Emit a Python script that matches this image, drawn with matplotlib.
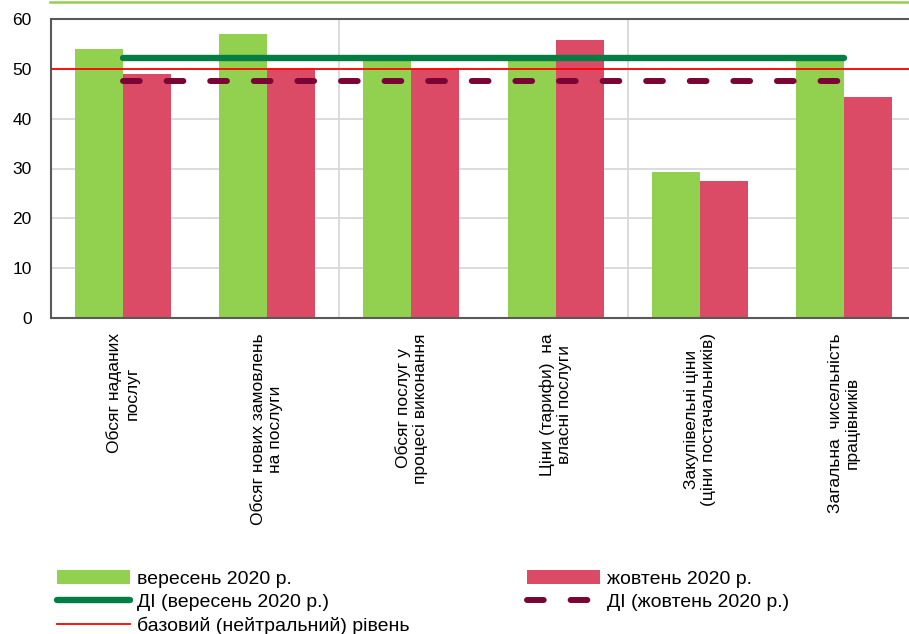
import numpy as np
import matplotlib.pyplot as plt
from matplotlib.lines import Line2D
from matplotlib.font_manager import FontProperties

# дані
categories = ["Обсяг наданих\nпослуг",
              "Обсяг нових замовлень\nна послуги",
              "Обсяг послуг у\nпроцесі виконання",
              "Ціни (тарифи)  на\nвласні послуги",
              "Закупівельні ціни\n(ціни постачальників)",
              "Загальна  чисельність\nпрацівників"]
sep_2020 = [54.0, 57.0, 51.7, 51.7, 29.3, 51.7]
oct_2020 = [49.0, 50.0, 50.0, 55.8, 27.5, 44.3]
di_sep = 52.1
di_oct = 47.5
base_level = 50

plt.rcParams['font.family'] = ['Liberation Sans', 'DejaVu Sans']

fig = plt.figure(figsize=(9.09, 6.34), dpi=100)
ax = fig.add_axes([51/909, 1-318/634, 865/909, 299/634])

x = np.arange(len(categories))
w = 1/3
ax.bar(x - w/2, sep_2020, w, color='#92D050', zorder=2, label='вересень 2020 р.')
ax.bar(x + w/2, oct_2020, w, color='#DC4B65', zorder=2, label='жовтень 2020 р.')

ax.plot([x[0], x[-1]], [di_sep, di_sep], color='#057E45', lw=4.6,
        solid_capstyle='round', zorder=4, label='ДІ (вересень 2020 р.)')
ax.plot([x[0], x[-1]], [di_oct, di_oct], color='#7A0535', lw=4.3,
        dashes=(2.8, 4.5), dash_capstyle='round', zorder=4, label='ДІ (жовтень 2020 р.)')
ax.axhline(base_level, color='#FF0000', lw=1.3, zorder=3,
           label='базовий (нейтральний) рівень')

ax.set_xlim(-0.5, len(categories) - 0.5)
ax.set_ylim(0, 60)
ax.set_yticks(range(0, 61, 10))
ax.set_xticks(x)
ax.set_xticklabels(categories, rotation=90, va='top', ha='center',
                   multialignment='center', fontsize=12)
ax.tick_params(axis='both', length=0, labelsize=12.5)
ax.tick_params(axis='x', pad=11)
ax.tick_params(axis='y', pad=14)

for yv in range(10, 60, 10):
    ax.axhline(yv, color='#D9D9D9', lw=1.3, zorder=1)
for xv in [1.5, 3.5]:
    ax.axvline(xv, color='#D9D9D9', lw=1.3, zorder=1)

for s in ['left', 'top', 'bottom']:
    ax.spines[s].set_color('#595959')
    ax.spines[s].set_linewidth(1.5)
ax.spines['right'].set_visible(False)

fig.add_artist(Line2D([50/909, 1], [1-2/634, 1-2/634], color='#92D050', lw=1.8))

h, l = ax.get_legend_handles_labels()
order = [3, 0, 2, 4, 1]
fig.legend([h[i] for i in order], [l[i] for i in order], ncol=2,
           loc='upper left', bbox_to_anchor=(57/909, 1-570/634),
           frameon=False, prop=FontProperties(size=14), handlelength=3.75,
           handleheight=0.7, handletextpad=0.35, labelspacing=0.3,
           columnspacing=6.05, borderaxespad=0, borderpad=0)

fig.savefig('out.png', dpi=100)
